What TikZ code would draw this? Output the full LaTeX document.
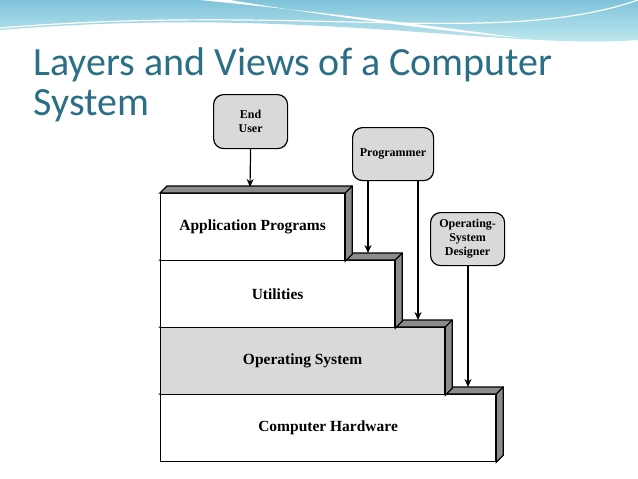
\documentclass[tikz,border=0pt]{standalone}
\usepackage{fontspec}
\setmainfont{Liberation Serif}
\newfontfamily\titlefont{Carlito}
\usetikzlibrary{positioning,arrows.meta}
\definecolor{titleblue}{HTML}{2A6F86}
\definecolor{waveA}{HTML}{7FC3DA}
\definecolor{waveB}{HTML}{CBEFF3}
\definecolor{userfill}{HTML}{D9D9D9}
\definecolor{sidefill}{HTML}{8C8C8C}
\tikzset{
  every path/.style={line width=1.2pt},
  layer/.style={draw, fill=white, anchor=north west, inner sep=0pt, minimum height=67pt,
    font=\bfseries\fontsize{15.5}{18}\selectfont},
  viewer/.style={draw, fill=userfill, rounded corners=10pt, align=center,
    inner sep=0pt, font=\bfseries\fontsize{12}{14}\selectfont, anchor=north west},
  look/.style={-{Stealth[length=8pt,width=7pt]}},
}
\newcommand{\depth}[1]{% top and side faces of a layer
  \fill[sidefill, draw=black] (#1.north west) -- ++(7,-7) -- ([shift={(7,-7)}]#1.north east) -- ([shift={(7,-7)}]#1.south east) -- (#1.south east) -- (#1.north east) -- cycle;
  \draw (#1.north east) -- ++(7,-7);
}
\begin{document}
\begin{tikzpicture}[x=1pt,y=-1pt]
\useasboundingbox (0,0) rectangle (638,479);
% slide background
\fill[white] (0,0) rectangle (638,479);
\shade[top color=waveA, bottom color=waveB] (0,0) -- (638,0) -- (638,40) .. controls (500,50) and (300,5) .. (0,30) -- cycle;
\fill[white] (200,0) .. controls (300,10) and (430,25) .. (520,38) .. controls (430,30) and (320,15) .. (230,0) -- cycle;
\draw[white] (0,28) .. controls (300,3) and (500,48) .. (638,0);
\node[anchor=base west, text=titleblue, font=\titlefont\fontsize{40}{48}\selectfont, inner sep=0pt] (title1) at (33,75) {Layers and Views of a Computer};
\node[anchor=base west, text=titleblue, font=\titlefont\fontsize{40}{48}\selectfont, inner sep=0pt] (title2) at (33,115) {System};
% layers, bottom up
\node[layer, minimum width=335pt] (hw) at (160,394) {Computer Hardware};
\depth{hw}
\node[layer, fill=userfill, minimum width=284pt] (os) at (160,327) {Operating System};
\depth{os}
\node[layer, minimum width=234pt] (util) at (160,260) {Utilities};
\depth{util}
\node[layer, minimum width=184pt] (app) at (160,193) {Application Programs};
\depth{app}
% viewers
\node[viewer, minimum width=74pt, minimum height=54pt] (enduser) at (213,94) {End\\User};
\node[viewer, minimum width=81pt, minimum height=53pt] (prog) at (352,127) {Programmer};
\node[viewer, minimum width=74pt, minimum height=53pt] (osdes) at (430,212) {Operating-\\System\\Designer};
\coordinate (appTop) at (250,187);
\coordinate (utilTop) at (368,253);
\coordinate (osTop) at (418,320);
\coordinate (hwTop) at (468,387);
\draw[look] (enduser.south) -- (appTop);
\draw[look] (prog.south -| utilTop) -- (utilTop);
\draw[look] (prog.south -| osTop) -- (osTop);
\draw[look] (osdes.south -| hwTop) -- (hwTop);
\end{tikzpicture}
\end{document}
